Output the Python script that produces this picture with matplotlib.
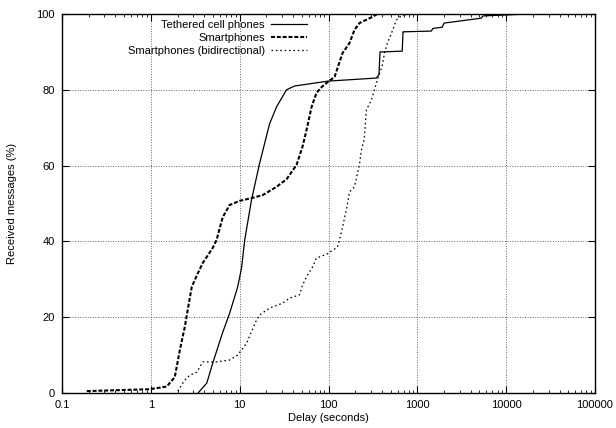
import matplotlib
matplotlib.use("Agg")
import matplotlib.pyplot as plt
from matplotlib.ticker import LogLocator, FixedLocator, NullFormatter, FixedFormatter

plt.rcParams['font.family'] = ['Liberation Sans', 'DejaVu Sans']

# Tethered cell phones (solid)
teth_x = [3.4, 4.26, 4.98, 6.4, 7.7, 9.5, 10.5, 11.4, 13.6, 16.8, 21.7, 26, 33.7, 41.5,
          100, 346, 370, 380, 415, 676, 690, 700, 1435, 1500, 1900, 2000, 5250, 5500, 14000, 18000]
teth_y = [0, 2.6, 7.9, 15.8, 21, 28, 33, 40.4, 51, 60.7, 71, 75.5, 80, 81,
          82.3, 83.1, 84, 90, 90, 90.2, 95.3, 95.3, 95.5, 96.2, 96.5, 97.6, 98.9, 99.5, 99.9, 100]

# Smartphones (thick dashed)
smart_x = [0.19, 0.97, 1.51, 1.86, 2.12, 2.41, 2.6, 2.89, 3.29, 3.84, 4.98, 5.5, 6.45, 7.7,
           10, 14, 18.1, 26, 33.7, 43.7, 51, 56.6, 64.5, 73.3, 83.5, 97.5, 117, 133, 144,
           172, 196, 223, 309, 355]
smart_y = [0.5, 1.0, 1.7, 4.2, 11.3, 17.4, 21.9, 28, 31, 34.3, 38.3, 40.4, 46.4, 49.6,
           50.7, 51.5, 52.2, 54.4, 56.4, 60.2, 65, 69.4, 75.5, 79.2, 80.7, 82, 83.4, 87.3, 89.7,
           92.3, 95.8, 97.6, 99.2, 100]

# Smartphones (bidirectional) (thin dotted)
bidi_x = [2.01, 2.41, 2.75, 3.29, 3.84, 5.5, 7.7, 9.5, 12, 15.5, 16.8, 21.7, 30.4, 36.3, 47.2,
          51, 58, 66, 73, 95, 126, 133, 144, 163, 172, 196, 212, 223, 234, 252, 267, 304,
          355, 404, 427, 460, 513, 581, 630, 813]
bidi_y = [0.5, 3.4, 4.7, 5.5, 8.2, 8.2, 8.7, 10, 13.2, 19.3, 20.6, 22.4, 23.7, 25, 25.9,
          28.5, 31.1, 33.2, 35.6, 36.6, 38.5, 40.4, 43.8, 49.6, 53, 54.4, 58, 60.2, 64, 66.8,
          74.7, 77.3, 82.6, 86.5, 89.7, 92.3, 95, 98.4, 99.2, 100]

labels = ["Tethered cell phones", "Smartphones", "Smartphones (bidirectional)"]
x_ticks = [0.1, 1, 10, 100, 1000, 10000, 100000]
x_tick_labels = ["0.1", "1", "10", "100", "1000", "10000", "100000"]
y_ticks = [0, 20, 40, 60, 80, 100]

fig = plt.figure(figsize=(6.16, 4.28), dpi=100)
ax = fig.add_axes([62/616, 1 - 393/428, 533/616, 379/428])

ax.plot(teth_x, teth_y, color='black', lw=0.9, ls='-', label=labels[0])
ax.plot(smart_x, smart_y, color='black', lw=1.5, ls=(0, (1.9, 0.9)), label=labels[1])
ax.plot(bidi_x, bidi_y, color='black', lw=0.9, ls=(0, (1.3, 2.2)), label=labels[2])

ax.set_xscale('log')
ax.set_xlim(0.1, 100000)
ax.set_ylim(0, 100)
ax.xaxis.set_major_locator(FixedLocator(x_ticks))
ax.xaxis.set_major_formatter(FixedFormatter(x_tick_labels))
ax.xaxis.set_minor_locator(LogLocator(base=10, subs=range(2, 10), numticks=20))
ax.xaxis.set_minor_formatter(NullFormatter())
ax.yaxis.set_major_locator(FixedLocator(y_ticks))

ax.tick_params(which='both', direction='in', top=True, right=True, labelsize=8, pad=5)
ax.tick_params(which='major', length=5, width=0.8)
ax.tick_params(which='minor', length=2.5, width=0.6)
for s in ax.spines.values():
    s.set_linewidth(1.0)

ax.grid(True, which='major', ls=(0, (1, 1.6)), color='#666666', lw=0.7)

ax.set_xlabel("Delay (seconds)", fontsize=8, labelpad=2)
ax.set_ylabel("Received messages (%)", fontsize=8, labelpad=14)

leg = ax.legend(loc='upper right', bbox_to_anchor=(0.47, 1.0), frameon=False, fontsize=8,
                markerfirst=False, handlelength=3.2, handletextpad=0.6, labelspacing=0.28,
                borderaxespad=0.1)
for t in leg.get_texts():
    t.set_ha('right')

fig.savefig("out.png", dpi=100)
